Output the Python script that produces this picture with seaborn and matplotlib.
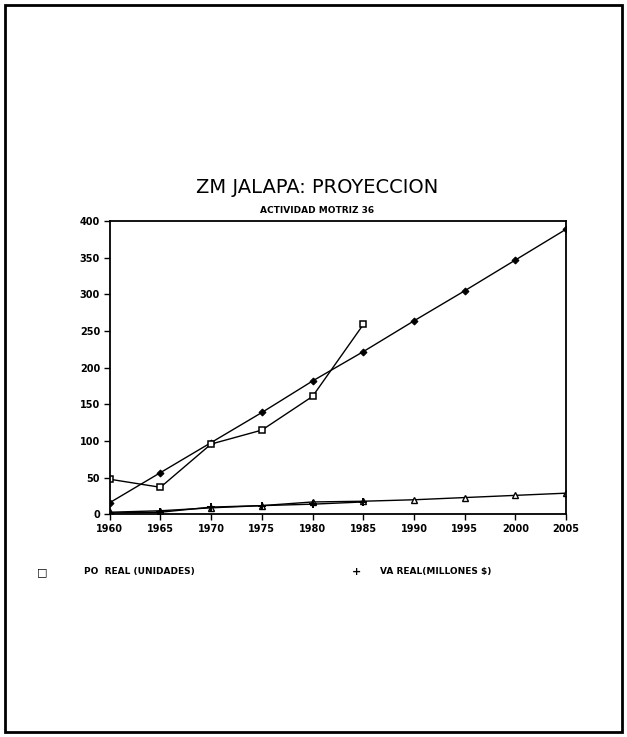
import matplotlib
matplotlib.use("Agg")
import matplotlib.pyplot as plt
import seaborn as sns
import pandas as pd

years_real = [1960, 1965, 1970, 1975, 1980, 1985]
years_proj = [1960, 1965, 1970, 1975, 1980, 1985, 1990, 1995, 2000, 2005]
po_real = [48, 37, 96, 115, 161, 259]
po_proj = [16, 57, 98, 139, 182, 222, 264, 305, 347, 389]
va_real = [2, 3, 10, 12, 14, 17]
va_proj = [3, 5, 9, 12, 17, 18, 20, 23, 26, 29]
x_ticks = list(range(1960, 2006, 5))
y_ticks = list(range(0, 401, 50))

sns.set_theme(style="white")
plt.rcParams['font.family'] = ['DejaVu Sans']
plt.rcParams['text.color'] = 'black'
plt.rcParams['xtick.color'] = 'black'
plt.rcParams['ytick.color'] = 'black'
plt.rcParams['axes.labelcolor'] = 'black'

fig = plt.figure(figsize=(6.27, 7.37), dpi=100)
ax = fig.add_axes([0.175, 0.302, 0.728, 0.398])

df_po_real = pd.DataFrame({"year": years_real, "value": po_real})
df_po_proj = pd.DataFrame({"year": years_proj, "value": po_proj})
df_va_real = pd.DataFrame({"year": years_real, "value": va_real})
df_va_proj = pd.DataFrame({"year": years_proj, "value": va_proj})

sns.lineplot(data=df_po_proj, x="year", y="value", ax=ax, color="black", lw=1.0,
             marker="D", markersize=3.5, markerfacecolor="black", markeredgecolor="black")
sns.lineplot(data=df_po_real, x="year", y="value", ax=ax, color="black", lw=1.0,
             marker="s", markersize=5, markerfacecolor="white", markeredgecolor="black", markeredgewidth=1.1)
sns.lineplot(data=df_va_proj, x="year", y="value", ax=ax, color="black", lw=1.0,
             marker="^", markersize=4.5, markerfacecolor="white", markeredgecolor="black", markeredgewidth=1.0)
sns.lineplot(data=df_va_real, x="year", y="value", ax=ax, color="black", lw=1.0,
             marker="+", markersize=6, markeredgecolor="black", markeredgewidth=1.4)

ax.set_xlim(1960, 2005)
ax.set_ylim(0, 400)
ax.set_xticks(x_ticks)
ax.set_yticks(y_ticks)
ax.set_xlabel("")
ax.set_ylabel("")
ax.tick_params(axis="both", direction="out", length=4, width=1, color="black",
               labelcolor="black", labelsize=7, pad=3, bottom=True, left=True)
for lab in ax.get_xticklabels() + ax.get_yticklabels():
    lab.set_fontweight("bold")
for sp in ax.spines.values():
    sp.set_color("black")
    sp.set_linewidth(1.3)

fig.text(0.505, 0.746, "ZM JALAPA: PROYECCION", ha="center", va="center", fontsize=14,
         color="black")
fig.text(0.505, 0.715, "ACTIVIDAD MOTRIZ 36", ha="center", va="center", fontsize=6.5,
         fontweight="bold", color="black")

fig.text(0.067, 0.224, "\u25a1", ha="center", va="center", fontsize=8, fontweight="bold", color="black")
fig.text(0.134, 0.224, "PO  REAL (UNIDADES)", ha="left", va="center", fontsize=6.5,
         fontweight="bold", color="black")
fig.text(0.568, 0.224, "+", ha="center", va="center", fontsize=8, fontweight="bold", color="black")
fig.text(0.606, 0.224, "VA REAL(MILLONES $)", ha="left", va="center", fontsize=6.5,
         fontweight="bold", color="black")

border = plt.Rectangle((0.008, 0.007), 0.984, 0.986, transform=fig.transFigure,
                       fill=False, edgecolor="black", linewidth=2)
fig.patches.append(border)

fig.savefig("out.png", dpi=100, facecolor="white")
